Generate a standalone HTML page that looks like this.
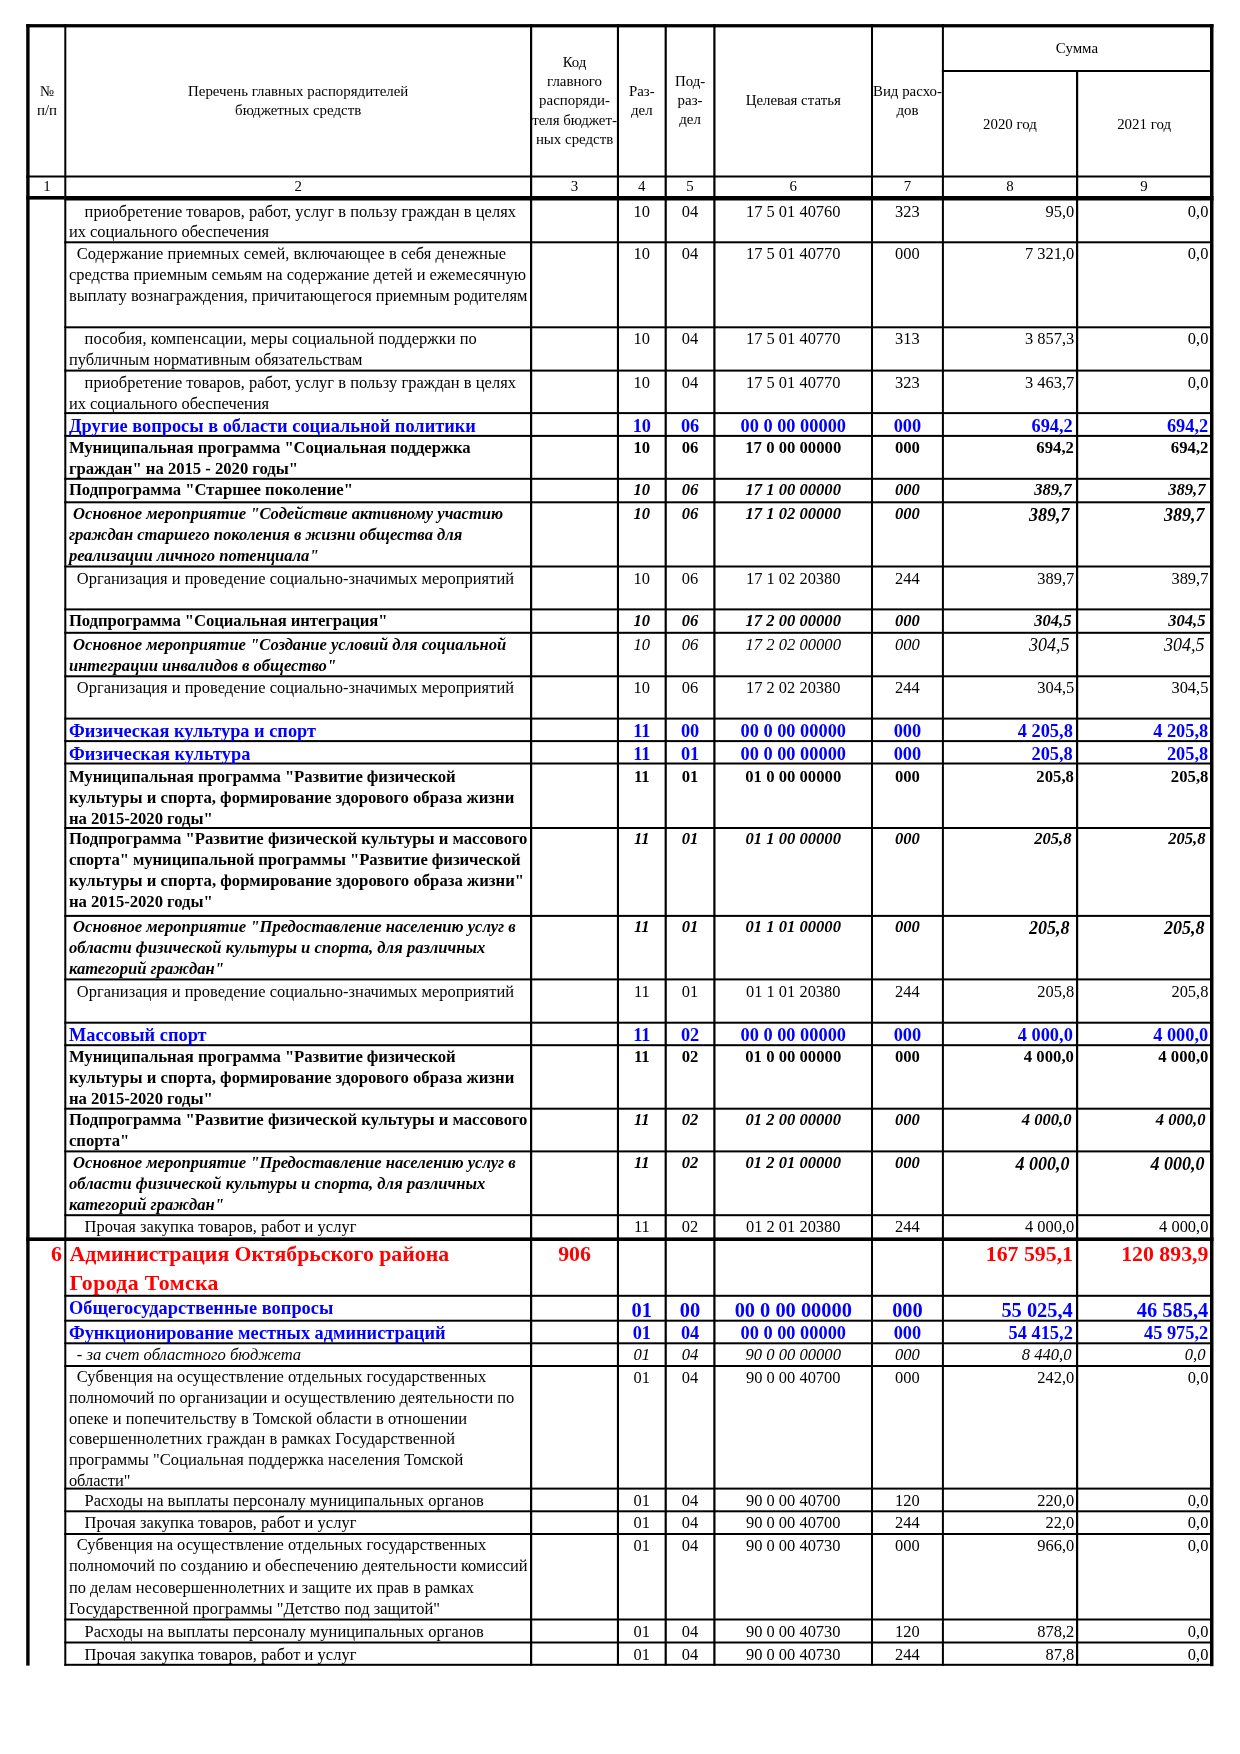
<!DOCTYPE html>
<html lang="ru"><head><meta charset="utf-8"><title>Ведомственная структура расходов</title>
<style>
html,body{margin:0;padding:0;background:#fff;}
body{width:1240px;height:1754px;overflow:hidden;}
svg{display:block;will-change:transform;}
text{font-family:"Liberation Serif","Times New Roman",serif;white-space:pre;}
.n{font-size:16.45px;font-weight:normal;font-style:normal;fill:#000}
.b{font-size:16.7px;font-weight:bold;font-style:normal;fill:#000}
.bi{font-size:16.6px;font-weight:bold;font-style:italic;fill:#000}
.biL{font-size:18.0px;font-weight:bold;font-style:italic;fill:#000}
.i{font-size:16.6px;font-weight:normal;font-style:italic;fill:#000}
.iL{font-size:18.0px;font-weight:normal;font-style:italic;fill:#000}
.blue{font-size:18.35px;font-weight:bold;font-style:normal;fill:#0000ff}
.red{font-size:21.8px;font-weight:bold;font-style:normal;fill:#ff0000}
.blueL{font-size:20.4px;font-weight:bold;font-style:normal;fill:#0000ff}
.h{font-size:14.9px;font-weight:normal;font-style:normal;fill:#000}
</style></head><body>
<svg width="1240" height="1754" viewBox="0 0 1240 1754">
<rect x="26.20" y="24.10" width="1187.30" height="3.30"/>
<rect x="26.20" y="24.10" width="3.40" height="1641.50"/>
<rect x="64.30" y="24.10" width="2.00" height="1641.70"/>
<rect x="530.00" y="24.10" width="2.20" height="1641.70"/>
<rect x="616.90" y="24.10" width="2.10" height="1641.70"/>
<rect x="664.60" y="24.10" width="2.20" height="1641.70"/>
<rect x="713.30" y="24.10" width="2.20" height="1641.70"/>
<rect x="871.00" y="24.10" width="2.00" height="1641.70"/>
<rect x="941.90" y="24.10" width="2.00" height="1641.70"/>
<rect x="1076.00" y="71.00" width="2.20" height="1594.80"/>
<rect x="1210.00" y="24.10" width="3.50" height="1642.10"/>
<rect x="941.90" y="70.00" width="268.10" height="2.00"/>
<rect x="26.20" y="175.50" width="1183.80" height="2.00"/>
<rect x="26.20" y="196.00" width="38.10" height="3.60"/>
<rect x="64.30" y="196.00" width="1149.20" height="4.50"/>
<rect x="26.20" y="1237.40" width="1187.30" height="3.60"/>
<rect x="64.30" y="241.30" width="1145.70" height="2.00"/>
<rect x="64.30" y="326.30" width="1145.70" height="2.00"/>
<rect x="64.30" y="369.60" width="1145.70" height="2.00"/>
<rect x="64.30" y="412.10" width="1145.70" height="2.00"/>
<rect x="64.30" y="434.90" width="1145.70" height="2.00"/>
<rect x="64.30" y="477.80" width="1145.70" height="2.00"/>
<rect x="64.30" y="501.30" width="1145.70" height="2.00"/>
<rect x="64.30" y="565.50" width="1145.70" height="2.00"/>
<rect x="64.30" y="608.40" width="1145.70" height="2.00"/>
<rect x="64.30" y="631.80" width="1145.70" height="2.00"/>
<rect x="64.30" y="675.30" width="1145.70" height="2.00"/>
<rect x="64.30" y="717.60" width="1145.70" height="2.00"/>
<rect x="64.30" y="740.10" width="1145.70" height="2.00"/>
<rect x="64.30" y="762.50" width="1145.70" height="2.00"/>
<rect x="64.30" y="827.00" width="1145.70" height="2.00"/>
<rect x="64.30" y="914.90" width="1145.70" height="2.00"/>
<rect x="64.30" y="978.40" width="1145.70" height="2.00"/>
<rect x="64.30" y="1021.70" width="1145.70" height="2.00"/>
<rect x="64.30" y="1044.20" width="1145.70" height="2.00"/>
<rect x="64.30" y="1107.70" width="1145.70" height="2.00"/>
<rect x="64.30" y="1150.40" width="1145.70" height="2.00"/>
<rect x="64.30" y="1214.20" width="1145.70" height="2.00"/>
<rect x="64.30" y="1294.80" width="1145.70" height="2.00"/>
<rect x="64.30" y="1319.70" width="1145.70" height="2.00"/>
<rect x="64.30" y="1342.30" width="1145.70" height="2.00"/>
<rect x="64.30" y="1365.00" width="1145.70" height="2.00"/>
<rect x="64.30" y="1487.60" width="1145.70" height="2.00"/>
<rect x="64.30" y="1510.30" width="1145.70" height="2.00"/>
<rect x="64.30" y="1533.00" width="1145.70" height="2.00"/>
<rect x="64.30" y="1618.50" width="1145.70" height="2.00"/>
<rect x="64.30" y="1641.50" width="1145.70" height="2.00"/>
<rect x="64.30" y="1663.80" width="1145.70" height="2.00"/>
<text class="h" x="46.95" y="96.00" text-anchor="middle">№</text>
<text class="h" x="46.95" y="114.50" text-anchor="middle">п/п</text>
<text class="h" x="298.15" y="95.80" text-anchor="middle">Перечень главных распорядителей</text>
<text class="h" x="298.15" y="114.70" text-anchor="middle">бюджетных средств</text>
<text class="h" x="574.55" y="67.20" text-anchor="middle">Код</text>
<text class="h" x="574.55" y="86.30" text-anchor="middle">главного</text>
<text class="h" x="574.55" y="105.40" text-anchor="middle">распоряди-</text>
<text class="h" x="574.55" y="124.50" text-anchor="middle">теля бюджет-</text>
<text class="h" x="574.55" y="143.60" text-anchor="middle">ных средств</text>
<text class="h" x="641.80" y="96.00" text-anchor="middle">Раз-</text>
<text class="h" x="641.80" y="115.10" text-anchor="middle">дел</text>
<text class="h" x="690.05" y="86.20" text-anchor="middle">Под-</text>
<text class="h" x="690.05" y="105.30" text-anchor="middle">раз-</text>
<text class="h" x="690.05" y="124.40" text-anchor="middle">дел</text>
<text class="h" x="793.25" y="105.00" text-anchor="middle">Целевая статья</text>
<text class="h" x="907.45" y="96.00" text-anchor="middle">Вид расхо-</text>
<text class="h" x="907.45" y="115.10" text-anchor="middle">дов</text>
<text class="h" x="1076.95" y="52.60" text-anchor="middle">Сумма</text>
<text class="h" x="1009.95" y="129.00" text-anchor="middle">2020 год</text>
<text class="h" x="1144.10" y="129.00" text-anchor="middle">2021 год</text>
<text class="h" x="46.95" y="191.30" text-anchor="middle">1</text>
<text class="h" x="298.15" y="191.30" text-anchor="middle">2</text>
<text class="h" x="574.55" y="191.30" text-anchor="middle">3</text>
<text class="h" x="641.80" y="191.30" text-anchor="middle">4</text>
<text class="h" x="690.05" y="191.30" text-anchor="middle">5</text>
<text class="h" x="793.25" y="191.30" text-anchor="middle">6</text>
<text class="h" x="907.45" y="191.30" text-anchor="middle">7</text>
<text class="h" x="1009.95" y="191.30" text-anchor="middle">8</text>
<text class="h" x="1144.10" y="191.30" text-anchor="middle">9</text>
<text class="n" x="84.60" y="216.55" textLength="431.34" lengthAdjust="spacing">приобретение товаров, работ, услуг в пользу граждан в целях</text>
<text class="n" x="68.90" y="237.35" textLength="200.13" lengthAdjust="spacing">их социального обеспечения</text>
<text class="n" x="641.80" y="216.55" text-anchor="middle">10</text>
<text class="n" x="690.05" y="216.55" text-anchor="middle">04</text>
<text class="n" x="793.25" y="216.55" text-anchor="middle">17 5 01 40760</text>
<text class="n" x="907.45" y="216.55" text-anchor="middle">323</text>
<text class="n" x="1074.30" y="216.55" text-anchor="end">95,0</text>
<text class="n" x="1208.40" y="216.55" text-anchor="end">0,0</text>
<text class="n" x="76.80" y="259.45" textLength="429.37" lengthAdjust="spacing">Содержание приемных семей, включающее в себя денежные</text>
<text class="n" x="68.90" y="280.25" textLength="457.20" lengthAdjust="spacing">средства приемным семьям на содержание детей и ежемесячную</text>
<text class="n" x="68.90" y="301.05" textLength="458.62" lengthAdjust="spacing">выплату вознаграждения, причитающегося приемным родителям</text>
<text class="n" x="641.80" y="259.45" text-anchor="middle">10</text>
<text class="n" x="690.05" y="259.45" text-anchor="middle">04</text>
<text class="n" x="793.25" y="259.45" text-anchor="middle">17 5 01 40770</text>
<text class="n" x="907.45" y="259.45" text-anchor="middle">000</text>
<text class="n" x="1074.30" y="259.45" text-anchor="end">7 321,0</text>
<text class="n" x="1208.40" y="259.45" text-anchor="end">0,0</text>
<text class="n" x="84.60" y="344.45" textLength="392.12" lengthAdjust="spacing">пособия, компенсации, меры социальной поддержки по</text>
<text class="n" x="68.90" y="365.25" textLength="293.51" lengthAdjust="spacing">публичным нормативным обязательствам</text>
<text class="n" x="641.80" y="344.45" text-anchor="middle">10</text>
<text class="n" x="690.05" y="344.45" text-anchor="middle">04</text>
<text class="n" x="793.25" y="344.45" text-anchor="middle">17 5 01 40770</text>
<text class="n" x="907.45" y="344.45" text-anchor="middle">313</text>
<text class="n" x="1074.30" y="344.45" text-anchor="end">3 857,3</text>
<text class="n" x="1208.40" y="344.45" text-anchor="end">0,0</text>
<text class="n" x="84.60" y="387.75" textLength="431.34" lengthAdjust="spacing">приобретение товаров, работ, услуг в пользу граждан в целях</text>
<text class="n" x="68.90" y="408.55" textLength="200.13" lengthAdjust="spacing">их социального обеспечения</text>
<text class="n" x="641.80" y="387.75" text-anchor="middle">10</text>
<text class="n" x="690.05" y="387.75" text-anchor="middle">04</text>
<text class="n" x="793.25" y="387.75" text-anchor="middle">17 5 01 40770</text>
<text class="n" x="907.45" y="387.75" text-anchor="middle">323</text>
<text class="n" x="1074.30" y="387.75" text-anchor="end">3 463,7</text>
<text class="n" x="1208.40" y="387.75" text-anchor="end">0,0</text>
<text class="blue" x="68.90" y="432.20" textLength="407.03" lengthAdjust="spacing">Другие вопросы в области социальной политики</text>
<text class="blue" x="641.80" y="432.20" text-anchor="middle">10</text>
<text class="blue" x="690.05" y="432.20" text-anchor="middle">06</text>
<text class="blue" x="793.25" y="432.20" text-anchor="middle">00 0 00 00000</text>
<text class="blue" x="907.45" y="432.20" text-anchor="middle">000</text>
<text class="blue" x="1072.80" y="432.20" text-anchor="end">694,2</text>
<text class="blue" x="1208.20" y="432.20" text-anchor="end">694,2</text>
<text class="b" x="68.90" y="452.90" textLength="401.65" lengthAdjust="spacing">Муниципальная программа "Социальная поддержка</text>
<text class="b" x="68.90" y="473.90" textLength="229.16" lengthAdjust="spacing">граждан" на 2015 - 2020 годы"</text>
<text class="b" x="641.80" y="452.90" text-anchor="middle">10</text>
<text class="b" x="690.05" y="452.90" text-anchor="middle">06</text>
<text class="b" x="793.25" y="452.90" text-anchor="middle">17 0 00 00000</text>
<text class="b" x="907.45" y="452.90" text-anchor="middle">000</text>
<text class="b" x="1073.90" y="452.90" text-anchor="end">694,2</text>
<text class="b" x="1208.40" y="452.90" text-anchor="end">694,2</text>
<text class="b" x="68.90" y="494.60" textLength="284.00" lengthAdjust="spacing">Подпрограмма "Старшее поколение"</text>
<text class="bi" x="641.80" y="494.60" text-anchor="middle">10</text>
<text class="bi" x="690.05" y="494.60" text-anchor="middle">06</text>
<text class="bi" x="793.25" y="494.60" text-anchor="middle">17 1 00 00000</text>
<text class="bi" x="907.45" y="494.60" text-anchor="middle">000</text>
<text class="bi" x="1071.50" y="494.60" text-anchor="end">389,7</text>
<text class="bi" x="1205.50" y="494.60" text-anchor="end">389,7</text>
<text class="bi" x="73.10" y="519.00" textLength="430.09" lengthAdjust="spacing">Основное мероприятие "Содействие активному участию</text>
<text class="bi" x="68.90" y="540.00" textLength="393.47" lengthAdjust="spacing">граждан старшего поколения в жизни общества для</text>
<text class="bi" x="68.90" y="561.00" textLength="249.70" lengthAdjust="spacing">реализации личного потенциала"</text>
<text class="bi" x="641.80" y="519.00" text-anchor="middle">10</text>
<text class="bi" x="690.05" y="519.00" text-anchor="middle">06</text>
<text class="bi" x="793.25" y="519.00" text-anchor="middle">17 1 02 00000</text>
<text class="bi" x="907.45" y="519.00" text-anchor="middle">000</text>
<text class="biL" x="1069.40" y="520.50" text-anchor="end">389,7</text>
<text class="biL" x="1204.50" y="520.50" text-anchor="end">389,7</text>
<text class="n" x="76.80" y="583.65" textLength="437.21" lengthAdjust="spacing">Организация и проведение социально-значимых мероприятий</text>
<text class="n" x="641.80" y="583.65" text-anchor="middle">10</text>
<text class="n" x="690.05" y="583.65" text-anchor="middle">06</text>
<text class="n" x="793.25" y="583.65" text-anchor="middle">17 1 02 20380</text>
<text class="n" x="907.45" y="583.65" text-anchor="middle">244</text>
<text class="n" x="1074.30" y="583.65" text-anchor="end">389,7</text>
<text class="n" x="1208.40" y="583.65" text-anchor="end">389,7</text>
<text class="b" x="68.90" y="626.10" textLength="318.66" lengthAdjust="spacing">Подпрограмма "Социальная интеграция"</text>
<text class="bi" x="641.80" y="626.10" text-anchor="middle">10</text>
<text class="bi" x="690.05" y="626.10" text-anchor="middle">06</text>
<text class="bi" x="793.25" y="626.10" text-anchor="middle">17 2 00 00000</text>
<text class="bi" x="907.45" y="626.10" text-anchor="middle">000</text>
<text class="bi" x="1071.50" y="626.10" text-anchor="end">304,5</text>
<text class="bi" x="1205.50" y="626.10" text-anchor="end">304,5</text>
<text class="bi" x="73.10" y="649.50" textLength="433.14" lengthAdjust="spacing">Основное мероприятие "Создание условий для социальной</text>
<text class="bi" x="68.90" y="670.50" textLength="267.22" lengthAdjust="spacing">интеграции инвалидов в общество"</text>
<text class="i" x="641.80" y="649.50" text-anchor="middle">10</text>
<text class="i" x="690.05" y="649.50" text-anchor="middle">06</text>
<text class="i" x="793.25" y="649.50" text-anchor="middle">17 2 02 00000</text>
<text class="i" x="907.45" y="649.50" text-anchor="middle">000</text>
<text class="iL" x="1069.40" y="651.00" text-anchor="end">304,5</text>
<text class="iL" x="1204.50" y="651.00" text-anchor="end">304,5</text>
<text class="n" x="76.80" y="693.45" textLength="437.21" lengthAdjust="spacing">Организация и проведение социально-значимых мероприятий</text>
<text class="n" x="641.80" y="693.45" text-anchor="middle">10</text>
<text class="n" x="690.05" y="693.45" text-anchor="middle">06</text>
<text class="n" x="793.25" y="693.45" text-anchor="middle">17 2 02 20380</text>
<text class="n" x="907.45" y="693.45" text-anchor="middle">244</text>
<text class="n" x="1074.30" y="693.45" text-anchor="end">304,5</text>
<text class="n" x="1208.40" y="693.45" text-anchor="end">304,5</text>
<text class="blue" x="68.90" y="737.00" textLength="247.13" lengthAdjust="spacing">Физическая культура и спорт</text>
<text class="blue" x="641.80" y="737.00" text-anchor="middle">11</text>
<text class="blue" x="690.05" y="737.00" text-anchor="middle">00</text>
<text class="blue" x="793.25" y="737.00" text-anchor="middle">00 0 00 00000</text>
<text class="blue" x="907.45" y="737.00" text-anchor="middle">000</text>
<text class="blue" x="1072.80" y="737.00" text-anchor="end">4 205,8</text>
<text class="blue" x="1208.20" y="737.00" text-anchor="end">4 205,8</text>
<text class="blue" x="68.90" y="760.20" textLength="181.53" lengthAdjust="spacing">Физическая культура</text>
<text class="blue" x="641.80" y="760.20" text-anchor="middle">11</text>
<text class="blue" x="690.05" y="760.20" text-anchor="middle">01</text>
<text class="blue" x="793.25" y="760.20" text-anchor="middle">00 0 00 00000</text>
<text class="blue" x="907.45" y="760.20" text-anchor="middle">000</text>
<text class="blue" x="1072.80" y="760.20" text-anchor="end">205,8</text>
<text class="blue" x="1208.20" y="760.20" text-anchor="end">205,8</text>
<text class="b" x="68.90" y="781.50" textLength="386.76" lengthAdjust="spacing">Муниципальная программа "Развитие физической</text>
<text class="b" x="68.90" y="802.50" textLength="445.43" lengthAdjust="spacing">культуры и спорта, формирование здорового образа жизни</text>
<text class="b" x="68.90" y="823.50" textLength="143.88" lengthAdjust="spacing">на 2015-2020 годы"</text>
<text class="b" x="641.80" y="781.50" text-anchor="middle">11</text>
<text class="b" x="690.05" y="781.50" text-anchor="middle">01</text>
<text class="b" x="793.25" y="781.50" text-anchor="middle">01 0 00 00000</text>
<text class="b" x="907.45" y="781.50" text-anchor="middle">000</text>
<text class="b" x="1073.90" y="781.50" text-anchor="end">205,8</text>
<text class="b" x="1208.40" y="781.50" text-anchor="end">205,8</text>
<text class="b" x="68.90" y="844.35" textLength="458.56" lengthAdjust="spacing">Подпрограмма "Развитие физической культуры и массового</text>
<text class="b" x="68.90" y="865.35" textLength="451.68" lengthAdjust="spacing">спорта" муниципальной программы "Развитие физической</text>
<text class="b" x="68.90" y="886.35" textLength="455.20" lengthAdjust="spacing">культуры и спорта, формирование здорового образа жизни"</text>
<text class="b" x="68.90" y="907.35" textLength="143.88" lengthAdjust="spacing">на 2015-2020 годы"</text>
<text class="bi" x="641.80" y="844.35" text-anchor="middle">11</text>
<text class="bi" x="690.05" y="844.35" text-anchor="middle">01</text>
<text class="bi" x="793.25" y="844.35" text-anchor="middle">01 1 00 00000</text>
<text class="bi" x="907.45" y="844.35" text-anchor="middle">000</text>
<text class="bi" x="1071.50" y="844.35" text-anchor="end">205,8</text>
<text class="bi" x="1205.50" y="844.35" text-anchor="end">205,8</text>
<text class="bi" x="73.10" y="932.10" textLength="442.66" lengthAdjust="spacing">Основное мероприятие "Предоставление населению услуг в</text>
<text class="bi" x="68.90" y="953.10" textLength="416.46" lengthAdjust="spacing">области физической культуры и спорта, для различных</text>
<text class="bi" x="68.90" y="974.10">категорий граждан"</text>
<text class="bi" x="641.80" y="932.10" text-anchor="middle">11</text>
<text class="bi" x="690.05" y="932.10" text-anchor="middle">01</text>
<text class="bi" x="793.25" y="932.10" text-anchor="middle">01 1 01 00000</text>
<text class="bi" x="907.45" y="932.10" text-anchor="middle">000</text>
<text class="biL" x="1069.40" y="933.60" text-anchor="end">205,8</text>
<text class="biL" x="1204.50" y="933.60" text-anchor="end">205,8</text>
<text class="n" x="76.80" y="996.55" textLength="437.21" lengthAdjust="spacing">Организация и проведение социально-значимых мероприятий</text>
<text class="n" x="641.80" y="996.55" text-anchor="middle">11</text>
<text class="n" x="690.05" y="996.55" text-anchor="middle">01</text>
<text class="n" x="793.25" y="996.55" text-anchor="middle">01 1 01 20380</text>
<text class="n" x="907.45" y="996.55" text-anchor="middle">244</text>
<text class="n" x="1074.30" y="996.55" text-anchor="end">205,8</text>
<text class="n" x="1208.40" y="996.55" text-anchor="end">205,8</text>
<text class="blue" x="68.90" y="1040.60">Массовый спорт</text>
<text class="blue" x="641.80" y="1040.60" text-anchor="middle">11</text>
<text class="blue" x="690.05" y="1040.60" text-anchor="middle">02</text>
<text class="blue" x="793.25" y="1040.60" text-anchor="middle">00 0 00 00000</text>
<text class="blue" x="907.45" y="1040.60" text-anchor="middle">000</text>
<text class="blue" x="1072.80" y="1040.60" text-anchor="end">4 000,0</text>
<text class="blue" x="1208.20" y="1040.60" text-anchor="end">4 000,0</text>
<text class="b" x="68.90" y="1061.90" textLength="386.76" lengthAdjust="spacing">Муниципальная программа "Развитие физической</text>
<text class="b" x="68.90" y="1082.90" textLength="445.43" lengthAdjust="spacing">культуры и спорта, формирование здорового образа жизни</text>
<text class="b" x="68.90" y="1103.90" textLength="143.88" lengthAdjust="spacing">на 2015-2020 годы"</text>
<text class="b" x="641.80" y="1061.90" text-anchor="middle">11</text>
<text class="b" x="690.05" y="1061.90" text-anchor="middle">02</text>
<text class="b" x="793.25" y="1061.90" text-anchor="middle">01 0 00 00000</text>
<text class="b" x="907.45" y="1061.90" text-anchor="middle">000</text>
<text class="b" x="1073.90" y="1061.90" text-anchor="end">4 000,0</text>
<text class="b" x="1208.40" y="1061.90" text-anchor="end">4 000,0</text>
<text class="b" x="68.90" y="1125.40" textLength="458.56" lengthAdjust="spacing">Подпрограмма "Развитие физической культуры и массового</text>
<text class="b" x="68.90" y="1146.40">спорта"</text>
<text class="bi" x="641.80" y="1125.40" text-anchor="middle">11</text>
<text class="bi" x="690.05" y="1125.40" text-anchor="middle">02</text>
<text class="bi" x="793.25" y="1125.40" text-anchor="middle">01 2 00 00000</text>
<text class="bi" x="907.45" y="1125.40" text-anchor="middle">000</text>
<text class="bi" x="1071.50" y="1125.40" text-anchor="end">4 000,0</text>
<text class="bi" x="1205.50" y="1125.40" text-anchor="end">4 000,0</text>
<text class="bi" x="73.10" y="1168.10" textLength="442.66" lengthAdjust="spacing">Основное мероприятие "Предоставление населению услуг в</text>
<text class="bi" x="68.90" y="1189.10" textLength="416.46" lengthAdjust="spacing">области физической культуры и спорта, для различных</text>
<text class="bi" x="68.90" y="1210.10">категорий граждан"</text>
<text class="bi" x="641.80" y="1168.10" text-anchor="middle">11</text>
<text class="bi" x="690.05" y="1168.10" text-anchor="middle">02</text>
<text class="bi" x="793.25" y="1168.10" text-anchor="middle">01 2 01 00000</text>
<text class="bi" x="907.45" y="1168.10" text-anchor="middle">000</text>
<text class="biL" x="1069.40" y="1169.60" text-anchor="end">4 000,0</text>
<text class="biL" x="1204.50" y="1169.60" text-anchor="end">4 000,0</text>
<text class="n" x="84.60" y="1232.35" textLength="271.82" lengthAdjust="spacing">Прочая закупка товаров, работ и услуг</text>
<text class="n" x="641.80" y="1232.35" text-anchor="middle">11</text>
<text class="n" x="690.05" y="1232.35" text-anchor="middle">02</text>
<text class="n" x="793.25" y="1232.35" text-anchor="middle">01 2 01 20380</text>
<text class="n" x="907.45" y="1232.35" text-anchor="middle">244</text>
<text class="n" x="1074.30" y="1232.35" text-anchor="end">4 000,0</text>
<text class="n" x="1208.40" y="1232.35" text-anchor="end">4 000,0</text>
<text class="red" x="62.00" y="1261.25" text-anchor="end">6</text>
<text class="red" x="69.50" y="1261.25" textLength="379.58" lengthAdjust="spacing">Администрация Октябрьского района</text>
<text class="red" x="69.50" y="1289.75" textLength="149.01" lengthAdjust="spacing">Города Томска</text>
<text class="red" x="574.55" y="1261.25" text-anchor="middle">906</text>
<text class="red" x="1073.00" y="1261.25" text-anchor="end">167 595,1</text>
<text class="red" x="1208.40" y="1261.25" text-anchor="end">120 893,9</text>
<text class="blue" x="68.90" y="1314.30" textLength="264.44" lengthAdjust="spacing">Общегосударственные вопросы</text>
<text class="blueL" x="641.80" y="1316.60" text-anchor="middle">01</text>
<text class="blueL" x="690.05" y="1316.60" text-anchor="middle">00</text>
<text class="blueL" x="793.25" y="1316.60" text-anchor="middle">00 0 00 00000</text>
<text class="blueL" x="907.45" y="1316.60" text-anchor="middle">000</text>
<text class="blueL" x="1072.80" y="1316.60" text-anchor="end">55 025,4</text>
<text class="blueL" x="1208.20" y="1316.60" text-anchor="end">46 585,4</text>
<text class="blue" x="68.90" y="1338.60" textLength="376.66" lengthAdjust="spacing">Функционирование местных администраций</text>
<text class="blue" x="641.80" y="1338.60" text-anchor="middle">01</text>
<text class="blue" x="690.05" y="1338.60" text-anchor="middle">04</text>
<text class="blue" x="793.25" y="1338.60" text-anchor="middle">00 0 00 00000</text>
<text class="blue" x="907.45" y="1338.60" text-anchor="middle">000</text>
<text class="blue" x="1072.80" y="1338.60" text-anchor="end">54 415,2</text>
<text class="blue" x="1208.20" y="1338.60" text-anchor="end">45 975,2</text>
<text class="i" x="76.80" y="1360.00" textLength="224.37" lengthAdjust="spacing">- за счет областного бюджета</text>
<text class="i" x="641.80" y="1360.00" text-anchor="middle">01</text>
<text class="i" x="690.05" y="1360.00" text-anchor="middle">04</text>
<text class="i" x="793.25" y="1360.00" text-anchor="middle">90 0 00 00000</text>
<text class="i" x="907.45" y="1360.00" text-anchor="middle">000</text>
<text class="i" x="1071.50" y="1360.00" text-anchor="end">8 440,0</text>
<text class="i" x="1205.50" y="1360.00" text-anchor="end">0,0</text>
<text class="n" x="76.80" y="1381.70" textLength="409.34" lengthAdjust="spacing">Субвенция на осуществление отдельных государственных</text>
<text class="n" x="68.90" y="1402.60" textLength="445.38" lengthAdjust="spacing">полномочий по организации и осуществлению деятельности по</text>
<text class="n" x="68.90" y="1423.50" textLength="398.27" lengthAdjust="spacing">опеке и попечительству в Томской области в отношении</text>
<text class="n" x="68.90" y="1444.40" textLength="386.05" lengthAdjust="spacing">совершеннолетних граждан в рамках Государственной</text>
<text class="n" x="68.90" y="1465.30" textLength="394.44" lengthAdjust="spacing">программы "Социальная поддержка населения Томской</text>
<text class="n" x="68.90" y="1486.20">области"</text>
<text class="n" x="641.80" y="1383.15" text-anchor="middle">01</text>
<text class="n" x="690.05" y="1383.15" text-anchor="middle">04</text>
<text class="n" x="793.25" y="1383.15" text-anchor="middle">90 0 00 40700</text>
<text class="n" x="907.45" y="1383.15" text-anchor="middle">000</text>
<text class="n" x="1074.30" y="1383.15" text-anchor="end">242,0</text>
<text class="n" x="1208.40" y="1383.15" text-anchor="end">0,0</text>
<text class="n" x="84.60" y="1505.75" textLength="399.14" lengthAdjust="spacing">Расходы на выплаты персоналу муниципальных органов</text>
<text class="n" x="641.80" y="1505.75" text-anchor="middle">01</text>
<text class="n" x="690.05" y="1505.75" text-anchor="middle">04</text>
<text class="n" x="793.25" y="1505.75" text-anchor="middle">90 0 00 40700</text>
<text class="n" x="907.45" y="1505.75" text-anchor="middle">120</text>
<text class="n" x="1074.30" y="1505.75" text-anchor="end">220,0</text>
<text class="n" x="1208.40" y="1505.75" text-anchor="end">0,0</text>
<text class="n" x="84.60" y="1528.45" textLength="271.82" lengthAdjust="spacing">Прочая закупка товаров, работ и услуг</text>
<text class="n" x="641.80" y="1528.45" text-anchor="middle">01</text>
<text class="n" x="690.05" y="1528.45" text-anchor="middle">04</text>
<text class="n" x="793.25" y="1528.45" text-anchor="middle">90 0 00 40700</text>
<text class="n" x="907.45" y="1528.45" text-anchor="middle">244</text>
<text class="n" x="1074.30" y="1528.45" text-anchor="end">22,0</text>
<text class="n" x="1208.40" y="1528.45" text-anchor="end">0,0</text>
<text class="n" x="76.80" y="1550.30" textLength="409.34" lengthAdjust="spacing">Субвенция на осуществление отдельных государственных</text>
<text class="n" x="68.90" y="1571.40" textLength="458.70" lengthAdjust="spacing">полномочий по созданию и обеспечению деятельности комиссий</text>
<text class="n" x="68.90" y="1592.50" textLength="405.03" lengthAdjust="spacing">по делам несовершеннолетних и защите их прав в рамках</text>
<text class="n" x="68.90" y="1613.60" textLength="371.14" lengthAdjust="spacing">Государственной программы "Детство под защитой"</text>
<text class="n" x="641.80" y="1551.15" text-anchor="middle">01</text>
<text class="n" x="690.05" y="1551.15" text-anchor="middle">04</text>
<text class="n" x="793.25" y="1551.15" text-anchor="middle">90 0 00 40730</text>
<text class="n" x="907.45" y="1551.15" text-anchor="middle">000</text>
<text class="n" x="1074.30" y="1551.15" text-anchor="end">966,0</text>
<text class="n" x="1208.40" y="1551.15" text-anchor="end">0,0</text>
<text class="n" x="84.60" y="1636.65" textLength="399.14" lengthAdjust="spacing">Расходы на выплаты персоналу муниципальных органов</text>
<text class="n" x="641.80" y="1636.65" text-anchor="middle">01</text>
<text class="n" x="690.05" y="1636.65" text-anchor="middle">04</text>
<text class="n" x="793.25" y="1636.65" text-anchor="middle">90 0 00 40730</text>
<text class="n" x="907.45" y="1636.65" text-anchor="middle">120</text>
<text class="n" x="1074.30" y="1636.65" text-anchor="end">878,2</text>
<text class="n" x="1208.40" y="1636.65" text-anchor="end">0,0</text>
<text class="n" x="84.60" y="1659.65" textLength="271.82" lengthAdjust="spacing">Прочая закупка товаров, работ и услуг</text>
<text class="n" x="641.80" y="1659.65" text-anchor="middle">01</text>
<text class="n" x="690.05" y="1659.65" text-anchor="middle">04</text>
<text class="n" x="793.25" y="1659.65" text-anchor="middle">90 0 00 40730</text>
<text class="n" x="907.45" y="1659.65" text-anchor="middle">244</text>
<text class="n" x="1074.30" y="1659.65" text-anchor="end">87,8</text>
<text class="n" x="1208.40" y="1659.65" text-anchor="end">0,0</text>
</svg>
</body></html>
